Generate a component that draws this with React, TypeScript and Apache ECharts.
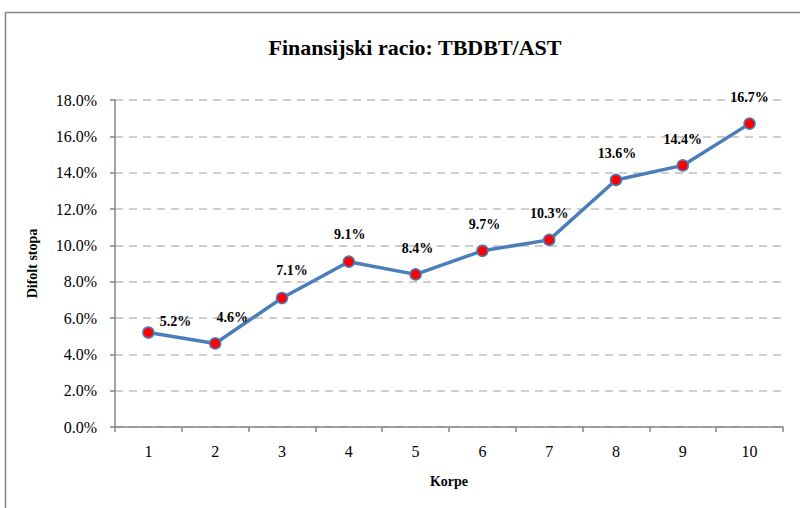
import React, { useEffect, useRef } from "react";
import * as echarts from "echarts";

const categories = ["1", "2", "3", "4", "5", "6", "7", "8", "9", "10"];
const values = [5.2, 4.6, 7.1, 9.1, 8.4, 9.7, 10.3, 13.6, 14.4, 16.7];
const labelShift: [number, number][] = [
  [27, 15], [17, 0], [10, -1], [1, -1], [2, 0], [2, 0], [0, 0], [1, 0], [0, 0], [0, 0],
];

const SERIF = "serif";

export default function App() {
  const ref = useRef<HTMLDivElement>(null);
  useEffect(() => {
    if (!ref.current) return;
    const chart = echarts.init(ref.current, null, { renderer: "svg" });
    chart.setOption({
      animation: false,
      backgroundColor: "#ffffff",
      textStyle: { fontFamily: SERIF },
      title: {
        text: "Finansijski racio: TBDBT/AST",
        left: 410,
        textAlign: "center",
        top: 31,
        textStyle: { fontFamily: SERIF, fontSize: 22, fontWeight: "bold", color: "#000" },
      },
      graphic: [
        {
          type: "rect",
          shape: { x: 5.5, y: 12.5, width: 820, height: 520 },
          style: { fill: "none", stroke: "#868686", lineWidth: 1.5 },
          silent: true,
          z: -1,
        },
      ],
      grid: { left: 115, right: 17, top: 100, bottom: 81, containLabel: false },
      xAxis: {
        type: "category",
        data: categories,
        boundaryGap: true,
        name: "Korpe",
        nameLocation: "middle",
        nameGap: 47,
        nameTextStyle: { fontFamily: SERIF, fontSize: 14, fontWeight: "bold", color: "#000" },
        axisLine: { lineStyle: { color: "#868686", width: 1.5 } },
        axisTick: { show: true, alignWithLabel: false, length: 5, inside: false, lineStyle: { color: "#868686", width: 1.5 } },
        axisLabel: { fontFamily: SERIF, fontSize: 16, color: "#000", margin: 16 },
        splitLine: { show: false },
      },
      yAxis: {
        type: "value",
        min: 0,
        max: 18,
        interval: 2,
        name: "Difolt stopa",
        nameLocation: "middle",
        nameRotate: 90,
        nameGap: 76,
        nameTextStyle: { fontFamily: SERIF, fontSize: 14, fontWeight: "bold", color: "#000" },
        axisLine: { show: true, lineStyle: { color: "#868686", width: 1.5 } },
        axisTick: { show: true, length: 5, lineStyle: { color: "#868686", width: 1.5 } },
        axisLabel: {
          fontFamily: SERIF,
          fontSize: 16,
          color: "#000",
          margin: 18,
          formatter: (v: number) => v.toFixed(1) + "%",
        },
        splitLine: { show: true, lineStyle: { color: "#BFBFBF", width: 1.5, type: [8, 6] } },
      },
      series: [
        {
          type: "line",
          data: values,
          symbol: "circle",
          symbolSize: 11,
          lineStyle: { color: "#4A7EBB", width: 3.5 },
          itemStyle: { color: "#FF0000", borderColor: "#4A7EBB", borderWidth: 1.5 },
          label: {
            show: true,
            position: "top",
            distance: 13,
            fontFamily: SERIF,
            fontSize: 14,
            fontWeight: "bold",
            color: "#000",
            formatter: (p: any) => Number(p.value).toFixed(1) + "%",
          },
          labelLayout: (p: any) => ({
            dx: labelShift[p.dataIndex][0],
            dy: labelShift[p.dataIndex][1],
            hideOverlap: false,
          }),
          z: 3,
        },
      ],
    });
    return () => chart.dispose();
  }, []);
  return <div ref={ref} style={{ width: 800, height: 508, position: "absolute", left: 0, top: 0 }} />;
}
